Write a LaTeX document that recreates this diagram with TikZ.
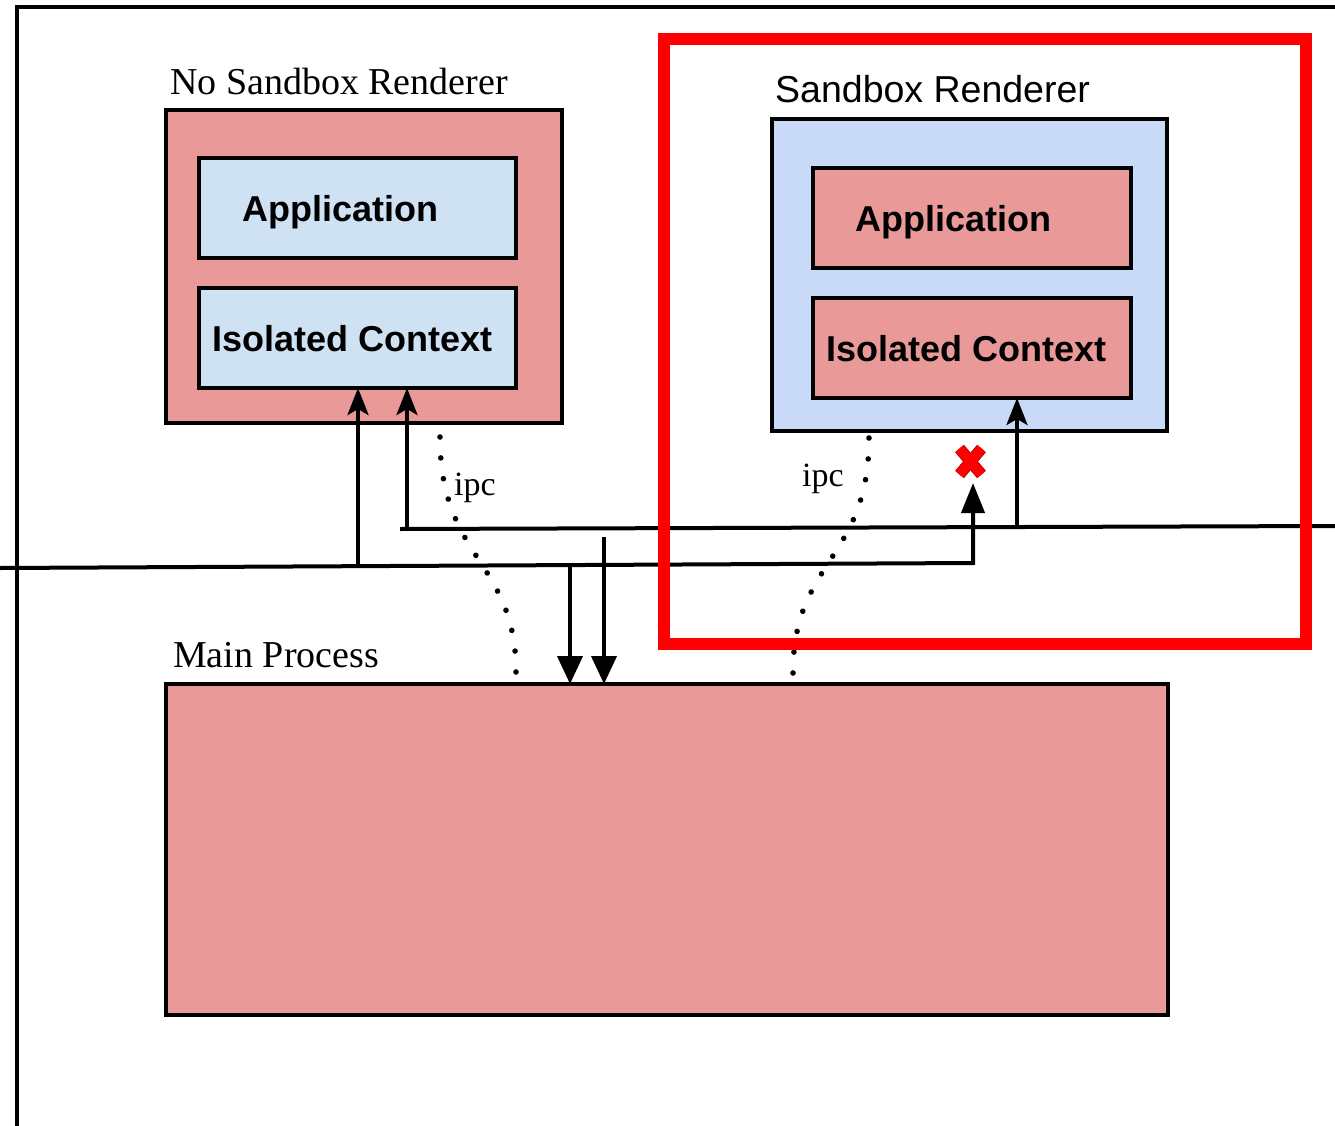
\documentclass[tikz,border=0pt]{standalone}
\usepackage{fontspec}
\setmainfont{Liberation Serif}
\newfontfamily\arialf{Liberation Sans}
\usetikzlibrary{arrows.meta,decorations.markings}
\definecolor{pinkfill}{HTML}{EA9999}
\definecolor{bluefill}{HTML}{CFE2F3}
\definecolor{blueouter}{HTML}{C9DAF8}
\definecolor{xred}{HTML}{FF0000}
\definecolor{xdark}{HTML}{C00000}
\begin{document}
\begin{tikzpicture}[x=1pt,y=-1pt,
  box/.style={draw=black, line width=4pt, inner sep=0pt, outer sep=0pt, rectangle},
  serlbl/.style={anchor=base west, inner sep=0pt, font=\fontsize{38}{42}\selectfont},
  sanlbl/.style={anchor=base west, inner sep=0pt, font=\arialf\fontsize{37.5}{42}\selectfont},
  boxlbl/.style={anchor=base west, inner sep=0pt, font=\arialf\bfseries\fontsize{36}{40}\selectfont},
  ipclbl/.style={anchor=base west, inner sep=0pt, font=\fontsize{34}{38}\selectfont},
  conn/.style={line width=4pt, line join=miter},
  upstealth/.style={-{Stealth[length=27pt,width=21pt,inset=6pt]}},
  downtri/.style={-{Triangle[length=28pt,width=25pt]}},
  ipcdots/.style={decoration={markings,
      mark=between positions 0 and 1 step 0.0833 with {\fill[black] (0,0) circle (2.8pt);}},
      decorate},
]
\useasboundingbox (0,0) rectangle (1335,1126);
\fill[white] (0,0) rectangle (1335,1126);

% outer frame
\draw[line width=4pt] (17,1126) -- (17,7) -- (1335,7);

% No Sandbox Renderer
\node[box, fill=pinkfill, minimum width=396pt, minimum height=313pt] (nsr) at (364,266.5) {};
\node[box, fill=bluefill, minimum width=317pt, minimum height=100pt] (appL) at (357.5,208) {};
\node[box, fill=bluefill, minimum width=317pt, minimum height=100pt] (icL) at (357.5,338) {};
\node[serlbl] (nsrT) at (170,95) {No Sandbox Renderer};
\node[boxlbl] (appLT) at (242,221) {Application};
\node[boxlbl] (icLT) at (212,351) {Isolated Context};

% Sandbox Renderer
\node[box, fill=blueouter, minimum width=395pt, minimum height=312pt] (sr) at (969.5,275) {};
\node[box, fill=pinkfill, minimum width=318pt, minimum height=100pt] (appR) at (972,218) {};
\node[box, fill=pinkfill, minimum width=318pt, minimum height=100pt] (icR) at (972,348) {};
\node[sanlbl] (srT) at (775,103) {Sandbox Renderer};
\node[boxlbl] (appRT) at (855,231) {Application};
\node[boxlbl] (icRT) at (826,361) {Isolated Context};

% Main Process
\node[box, fill=pinkfill, minimum width=1002pt, minimum height=331pt] (main) at (667,849.5) {};
\node[serlbl] (mainT) at (173,667) {Main Process};

% junction coordinates
\coordinate (aStart) at (0,568);
\coordinate (aCorner) at (973,563);
\coordinate (aL) at (358,567);
\coordinate (aD) at (570,566);
\coordinate (bStart) at (400,529);
\coordinate (bEnd) at (1335,526);
\coordinate (bL) at (407,529);
\coordinate (bR) at (1017,527);
\coordinate (dStart) at (604,537);
\coordinate (xm) at (970.5,461.5);
\coordinate (xtip) at (973,483);

% line A
\draw[conn, -{Triangle[length=30pt,width=23pt]}] (aStart) -- (aCorner) -- (xtip);
\draw[conn, upstealth] (aL) -- (icL.south -| aL);
\draw[conn, downtri] (aD) -- (main.north -| aD);

% line B
\draw[conn] (bStart) -- (bEnd);
\draw[conn, upstealth] (bL) -- (icL.south -| bL);
\draw[conn, upstealth] (bR) -- (icR.south -| bR);
\draw[conn, downtri] (dStart) -- (main.north -| dStart);

% ipc dotted curves
\coordinate (ipcL1) at (440,437);
\coordinate (ipcL2) at (516,672);
\coordinate (ipcR1) at (869,438);
\coordinate (ipcR2) at (793,673);
\path[ipcdots] (ipcL1) .. controls (440,560) and (516,560) .. (ipcL2);
\path[ipcdots] (ipcR1) .. controls (869,560) and (793,560) .. (ipcR2);
\node[ipclbl] (ipcLT) at (454,495) {ipc};
\node[ipclbl] (ipcRT) at (802,486) {ipc};

% red X
\draw[xdark, line width=11.5pt] ([shift={(-11,-13)}]xm) -- ([shift={(11,13)}]xm);
\draw[xdark, line width=11.5pt] ([shift={(11,-13)}]xm) -- ([shift={(-11,13)}]xm);
\draw[xred, line width=9.5pt] ([shift={(-11,-13)}]xm) -- ([shift={(11,13)}]xm);
\draw[xred, line width=9.5pt] ([shift={(11,-13)}]xm) -- ([shift={(-11,13)}]xm);

% red highlight frame
\draw[xred, line width=12pt] (664,39) rectangle (1306,644);
\end{tikzpicture}
\end{document}
